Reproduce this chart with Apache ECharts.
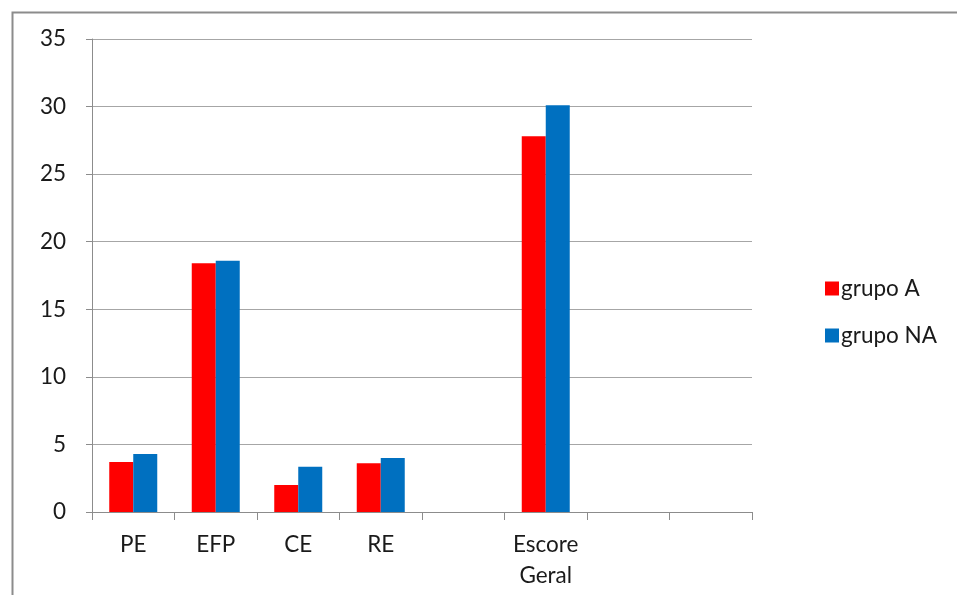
<!DOCTYPE html>
<html>
<head>
<meta charset="utf-8">
<script src="https://cdn.jsdelivr.net/npm/echarts@6/dist/echarts.min.js"></script>
<style>
html,body{margin:0;padding:0;background:#fff;}
#chart{width:957px;height:595px;}
</style>
</head>
<body>
<div id="chart"></div>
<script>
const categories = ['PE', 'EFP', 'CE', 'RE', '', 'Escore\nGeral', '', ''];
const grupoA = [3.7, 18.4, 2.0, 3.6, null, 27.8, null, null];
const grupoNA = [4.3, 18.6, 3.35, 4.0, null, 30.1, null, null];
const yTicks = [0, 5, 10, 15, 20, 25, 30, 35];

const FONT = 'Lato';
const FS = 22.5;
const chart = echarts.init(document.getElementById('chart'), null, {renderer: 'canvas'});
chart.setOption({
  animation: false,
  backgroundColor: '#fff',
  textStyle: {fontFamily: FONT},
  graphic: [{
    type: 'rect',
    left: 10, top: 10,
    shape: {width: 1200, height: 1200},
    style: {fill: 'none', stroke: '#8c8c8c', lineWidth: 2},
    silent: true
  }],
  grid: {left: 92, top: 39, right: 205, bottom: 83, containLabel: false},
  legend: {
    orient: 'vertical',
    left: 820, top: 272,
    itemWidth: 14, itemHeight: 14, itemGap: 24,
    icon: 'rect',
    textStyle: {fontSize: FS, color: '#1a1a1a', fontFamily: FONT, padding: [0, 0, 0, -3]},
    data: ['grupo A', 'grupo NA']
  },
  xAxis: {
    type: 'category',
    data: categories,
    axisLine: {lineStyle: {color: '#8c8c8c', width: 1}},
    axisTick: {show: true, length: 8, alignWithLabel: false, lineStyle: {color: '#8c8c8c'}},
    axisLabel: {fontSize: FS, color: '#1a1a1a', fontFamily: FONT, margin: 17, lineHeight: 31, interval: 0}
  },
  yAxis: {
    type: 'value',
    min: 0, max: 35, interval: 5,
    axisLine: {show: true, lineStyle: {color: '#8c8c8c', width: 1}},
    axisTick: {show: true, length: 6, lineStyle: {color: '#8c8c8c'}},
    axisLabel: {fontSize: FS, color: '#1a1a1a', fontFamily: FONT, margin: 26,
      formatter: v => yTicks.includes(v) ? String(v) : ''},
    splitLine: {lineStyle: {color: '#a6a6a6', width: 1}}
  },
  series: [
    {name: 'grupo A', type: 'bar', data: grupoA, barWidth: 24, barGap: '0%',
     itemStyle: {color: '#ff0000'}},
    {name: 'grupo NA', type: 'bar', data: grupoNA, barWidth: 24, barGap: '0%',
     itemStyle: {color: '#0070c0'}}
  ]
});
</script>
</body>
</html>
